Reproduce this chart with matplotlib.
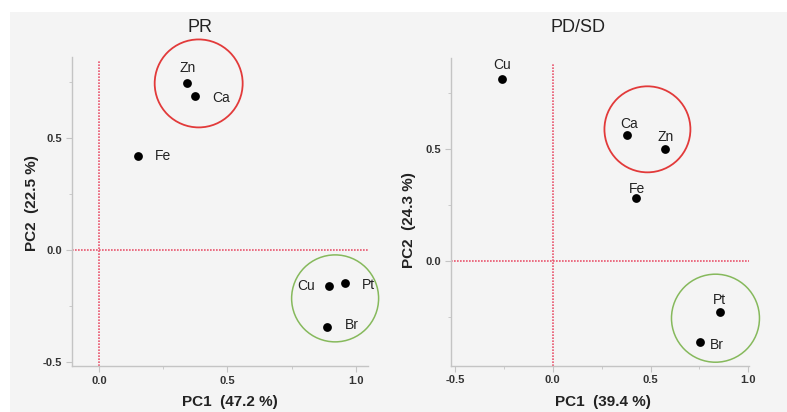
import matplotlib
matplotlib.use("Agg")
import matplotlib.pyplot as plt
from matplotlib.patches import Ellipse, Rectangle

plt.rcParams["font.family"] = ["Liberation Sans", "DejaVu Sans"]

# ---------------- data ----------------
pr_labels = ["Zn", "Ca", "Fe", "Cu", "Pt", "Br"]
pr_pc1 = [0.344, 0.374, 0.152, 0.897, 0.956, 0.886]
pr_pc2 = [0.746, 0.686, 0.418, -0.159, -0.147, -0.345]

pd_labels = ["Cu", "Ca", "Zn", "Fe", "Pt", "Br"]
pd_pc1 = [-0.259, 0.377, 0.573, 0.426, 0.857, 0.754]
pd_pc2 = [0.8125, 0.564, 0.501, 0.284, -0.225, -0.362]

pr_title = "PR"
pd_title = "PD/SD"
pr_xlabel = "PC1  (47.2 %)"
pr_ylabel = "PC2  (22.5 %)"
pd_xlabel = "PC1  (39.4 %)"
pd_ylabel = "PC2  (24.3 %)"

# ---------------- style / layout ----------------
pr_offsets = [(0, 11), (19, -1), (18, 0), (-16.6, 0), (16.8, -1.7), (18.5, 1.7)]
pd_offsets = [(0, 10.3), (1.9, 7.9), (0.5, 8.9), (0.7, 6.5), (-0.5, 8.4), (12.2, -1.7)]

BG = "#f4f4f4"
SPINE = "#c4c4c4"
TICKTXT = "#333333"
REFLINE = "#e8566e"
RED = "#e23a3a"
GREEN = "#86b95c"

fig = plt.figure(figsize=(7.87, 4.12), dpi=100, facecolor="white")
fig.patches.append(Rectangle((10 / 787, 0), 1 - 10 / 787, 1 - 12 / 412,
                             transform=fig.transFigure, facecolor=BG,
                             edgecolor="none", zorder=-10))

ax1 = fig.add_axes([72 / 787, 46 / 412, 296 / 787, 309 / 412])
ax2 = fig.add_axes([451.3 / 787, 46.3 / 412, 298 / 787, 307.4 / 412])


def style(ax, xlim, ylim, xticks, yticks, xminor, yminor):
    ax.set_facecolor("none")
    ax.set_xlim(*xlim)
    ax.set_ylim(*ylim)
    for s in ["top", "right"]:
        ax.spines[s].set_visible(False)
    for s in ["left", "bottom"]:
        ax.spines[s].set_color(SPINE)
        ax.spines[s].set_linewidth(1.0)
    ax.set_xticks(xticks)
    ax.set_yticks(yticks)
    ax.set_xticks(xminor, minor=True)
    ax.set_yticks(yminor, minor=True)
    ax.set_xticklabels([f"{v:.1f}" for v in xticks])
    ax.set_yticklabels([f"{v:.1f}" for v in yticks])
    ax.tick_params(which="major", length=4, width=0.8, color=SPINE,
                   labelsize=8, labelcolor=TICKTXT, pad=3)
    ax.tick_params(which="minor", length=2, width=0.6, color=SPINE)
    for lab in ax.get_xticklabels() + ax.get_yticklabels():
        lab.set_fontweight("bold")


def draw(ax, xs, ys, labels, offsets, title, xlabel, ylabel,
         title_xy, xlab_xy, ylab_xy, vmax, circles):
    ax.axvline(0, ymax=vmax, color=REFLINE, lw=1.2, ls=(0, (1, 0.8)), zorder=1)
    ax.axhline(0, color=REFLINE, lw=1.2, ls=(0, (1, 0.8)), zorder=1)
    ax.scatter(xs, ys, s=40, color="black", zorder=3, linewidths=0)
    for x, y, lab, off in zip(xs, ys, labels, offsets):
        ax.annotate(lab, (x, y), xytext=off, textcoords="offset points",
                    ha="center", va="center", fontsize=10, color="#222222")
    for (cx, cy, w, h, col, lw) in circles:
        ax.add_patch(Ellipse((cx, cy), w, h, fill=False, edgecolor=col,
                             lw=lw, zorder=2, clip_on=False))
    ax.text(title_xy[0], title_xy[1], title, transform=ax.transAxes,
            ha="center", va="center", fontsize=13, color="#222222")
    ax.set_xlabel(xlabel, fontsize=11, fontweight="bold", color="#222222")
    ax.set_ylabel(ylabel, fontsize=11, fontweight="bold", color="#222222")
    ax.xaxis.set_label_coords(*xlab_xy)
    ax.yaxis.set_label_coords(*ylab_xy)


# ---- left panel (PR) ----
style(ax1, (-0.105, 1.047), (-0.518, 0.862),
      [0.0, 0.5, 1.0], [-0.5, 0.0, 0.5],
      [0.25, 0.75], [-0.25, 0.25, 0.75])
px1 = 0.5 / 128.5
py1 = 0.5 / 112
draw(ax1, pr_pc1, pr_pc2, pr_labels, pr_offsets, pr_title, pr_xlabel,
     pr_ylabel, (0.432, 1.095), (0.534, -0.095), (-0.11, 0.527), 0.99,
     [(0.388, 0.744, 88 * px1, 88 * py1, RED, 1.3),
      (0.919, -0.216, 87 * px1, 87 * py1, GREEN, 1.1)])

# ---- right panel (PD/SD) ----
style(ax2, (-0.519, 1.005), (-0.466, 0.906),
      [-0.5, 0.0, 0.5, 1.0], [0.0, 0.5],
      [-0.25, 0.25, 0.75], [-0.25, 0.25, 0.75])
px2 = 1.0 / 195.6
py2 = 0.5 / 112
draw(ax2, pd_pc1, pd_pc2, pd_labels, pd_offsets, pd_title, pd_xlabel,
     pd_ylabel, (0.425, 1.099), (0.509, -0.095), (-0.12, 0.474), 0.985,
     [(0.484, 0.589, 86 * px2, 86 * py2, RED, 1.3),
      (0.832, -0.254, 88 * px2, 88 * py2, GREEN, 1.1)])

fig.savefig("out.png", dpi=100, facecolor=fig.get_facecolor())
